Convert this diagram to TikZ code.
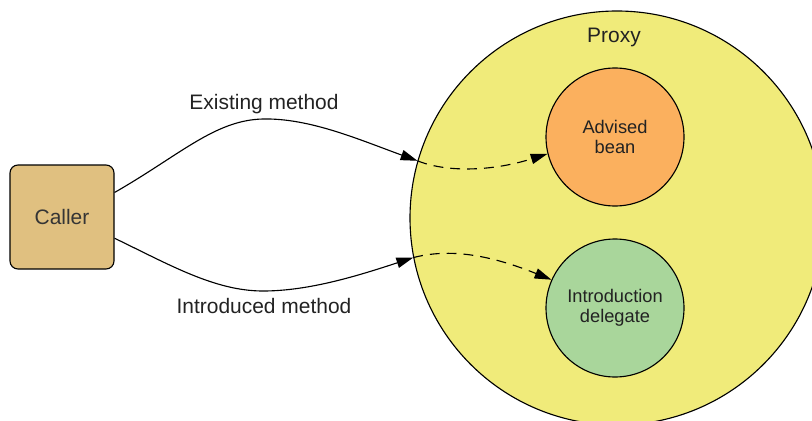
\documentclass[tikz,border=0pt]{standalone}
\usepackage{fontspec}
\setmainfont{Liberation Sans}
\usetikzlibrary{arrows.meta,positioning}

\definecolor{callerfill}{RGB}{224,192,128}
\definecolor{proxyfill}{RGB}{240,235,122}
\definecolor{beanfill}{RGB}{251,176,94}
\definecolor{delegatefill}{RGB}{169,214,155}
\definecolor{textgray}{RGB}{34,34,34}

\begin{document}
\begin{tikzpicture}[
				% shapes
				bubble/.style={circle, draw=black, line width=0.8pt, inner sep=0pt, align=center,
					text=textgray, font=\fontsize{13}{14.5}\selectfont},
				callerbox/.style={rectangle, draw=black, line width=0.8pt, fill=callerfill,
					rounded corners=0.2cm, minimum width=2.6cm, minimum height=2.6cm,
					text=textgray!80!gray, font=\fontsize{14.9}{17}\selectfont},
				label/.style={anchor=base, text=textgray, font=\fontsize{14.9}{17}\selectfont},
				% connectors
				call/.style={line width=0.8pt, -{Triangle[length=0.42cm, width=0.26cm]}},
				forward/.style={call, dash pattern=on 7pt off 5pt}
				]
				\pgfmathsetmacro{\ProxyRadius}{5.175}
				\pgfmathsetmacro{\InnerRadius}{1.725}
				\clip (0,0) rectangle (20.3,10.5);
				\node [callerbox] (caller) at (1.55,5.075) {Caller};
				\node [bubble, fill=proxyfill, minimum size=2*\ProxyRadius cm] (proxy) at (15.425,5.05) {};
				\node [label] (proxylabel) at (15.35,9.425) {Proxy};
				\node [bubble, fill=beanfill, minimum size=2*\InnerRadius cm] (bean) at (15.375,7.075) {Advised\\bean};
				\node [bubble, fill=delegatefill, minimum size=2*\InnerRadius cm] (delegate) at (15.375,2.8) {Introduction\\delegate};
				\node [label] (existing) at (6.6,7.75) {Existing method};
				\node [label] (introduced) at (6.6,2.675) {Introduced method};
				\draw [call] (caller.25) .. controls (4.5,6.625) and (5.375,7.5) .. (6.575,7.525)
					.. controls (7.75,7.55) and (9.0,7.0) .. (proxy.164.5);
				\draw [call] (caller.-22) .. controls (4.25,3.875) and (5.375,3.225) .. (6.575,3.225)
					.. controls (7.75,3.225) and (9.0,3.625) .. (proxy.191);
				\draw [forward] (proxy.164.5) .. controls (11.125,6.2) and (12.25,6.2) .. (bean.194);
				\draw [forward] (proxy.191) .. controls (11.25,4.3) and (12.25,4.125) .. (delegate.156);
			\end{tikzpicture}
\end{document}
